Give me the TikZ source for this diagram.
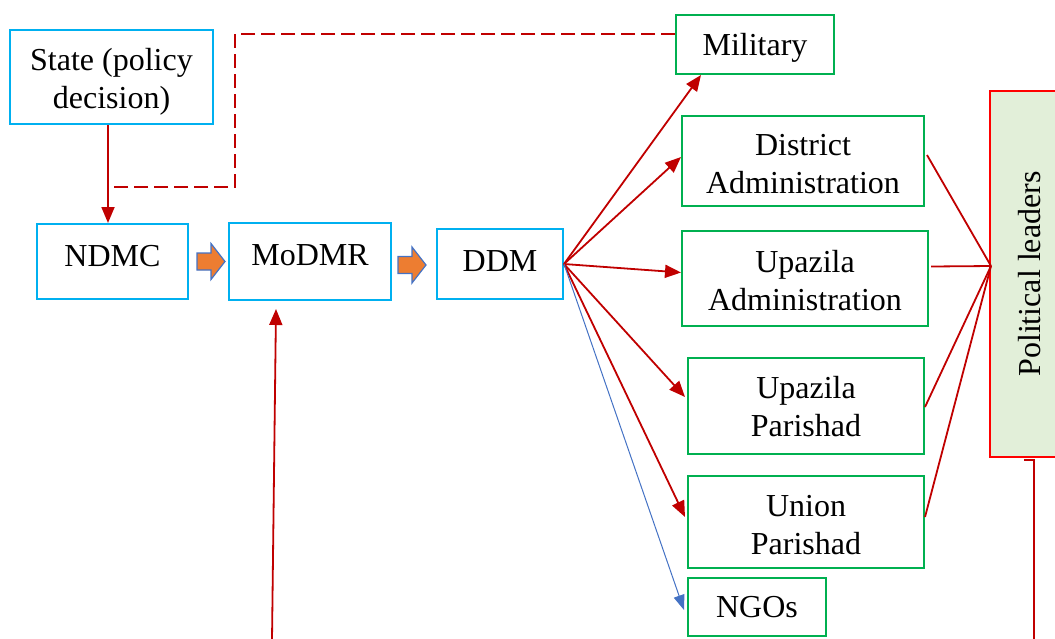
\documentclass[tikz,border=0pt]{standalone}
\usepackage{fontspec}
\setmainfont{Liberation Serif}
\usetikzlibrary{arrows.meta,calc}
\definecolor{boxblue}{HTML}{00B0F0}
\definecolor{boxgreen}{HTML}{00B050}
\definecolor{linkred}{HTML}{C00000}
\definecolor{leadred}{HTML}{FF0000}
\definecolor{leadfill}{HTML}{E2EFD9}
\definecolor{ngoblue}{HTML}{4472C4}
\definecolor{flow}{HTML}{ED7D31}
\tikzset{
  txt/.style={font=\fontsize{32}{38}\selectfont, align=center, inner sep=0pt},
  bluebox/.style={txt, draw=boxblue, line width=2pt},
  greenbox/.style={txt, draw=boxgreen, line width=2pt},
  leadbox/.style={txt, draw=leadred, fill=leadfill, line width=1.6pt},
  redlink/.style={draw=linkred, line width=1.8pt},
  redarrow/.style={redlink, -{Triangle[length=16pt,width=13pt]}},
  bluearrow/.style={draw=ngoblue, line width=1pt, -{Triangle[length=15pt,width=11pt]}},
  flowarrow/.style={draw=ngoblue, fill=flow, line width=1.2pt, line join=miter},
}
% block arrow whose tail centre sits at #1
\newcommand{\flowarrowat}[1]{%
  \path[flowarrow] ($#1+(0,-8.5)$) -- ++(14,0) -- ++(0,-9.5) -- ++(14,18)
    -- ++(-14,18) -- ++(0,-9.5) -- ++(-14,0) -- cycle;}
\begin{document}
\begin{tikzpicture}[x=1pt,y=-1pt]
\useasboundingbox (0,0) rectangle (1055,638);

% central chain
\node[bluebox, minimum width=203pt, minimum height=94pt] (state) at (111.5,77) {};
\node[txt] at ([yshift=-5pt]state.center) {State (policy\\decision)};
\node[bluebox, minimum width=151pt, minimum height=75pt, text height=22pt, text depth=13pt] (ndmc) at (112.5,261.5) {NDMC};
\node[bluebox, minimum width=162pt, minimum height=77pt, text height=22pt, text depth=15pt] (modmr) at (310,261.5) {MoDMR};
\node[bluebox, minimum width=126pt, minimum height=70pt, text height=22pt, text depth=8pt] (ddm) at (500,264) {DDM};

\coordinate (a1) at (197,261.5);
\coordinate (a2) at (398,265);
\flowarrowat{(a1)}
\flowarrowat{(a2)}

% implementing bodies
\node[greenbox, minimum width=158pt, minimum height=59pt] (military) at (755,44.5) {};
\node[txt] at ([yshift=-3pt]military.center) {Military};
\node[greenbox, minimum width=242pt, minimum height=90pt] (dist) at (803,161) {};
\node[txt] at ([yshift=-3pt]dist.center) {District\\Administration};
\node[greenbox, minimum width=246pt, minimum height=95pt] (upadm) at (805,278.5) {};
\node[txt] at ([yshift=-2pt]upadm.center) {Upazila\\Administration};
\node[greenbox, minimum width=236pt, minimum height=96pt] (uppar) at (806,406) {};
\node[txt] at ([yshift=-1pt]uppar.center) {Upazila\\Parishad};
\node[greenbox, minimum width=236pt, minimum height=92pt] (union) at (806,522) {};
\node[txt] at ([yshift=-3pt]union.center) {Union\\Parishad};
\node[greenbox, minimum width=138pt, minimum height=58pt] (ngos) at (757,607) {NGOs};

% political leaders column
\node[leadbox, rotate=90, minimum width=366pt, minimum height=80pt] (pl) at (1030,274) {Political leaders};

% helper points
\coordinate (dk) at (235,187);
\coordinate (dend) at (112,187);
\coordinate (bt) at (272,640);
\coordinate (j) at (991,266);
\coordinate (pltick) at (1024,460);
\coordinate (pbot) at (1034,640);

% links
\draw[redarrow] ([xshift=-3.5pt]state.south) -- ([xshift=-3.5pt]state.south |- ndmc.north);
\draw[redlink, line width=2pt, dash pattern=on 14pt off 6pt] ([yshift=10.5pt]military.west) -| (dk) -- (dend);
\draw[redarrow] (bt) -- ($(modmr.south)+(-34,8)$);

\draw[redarrow] (ddm.east) -- ($(military.south west)+(26,0)$);
\draw[redarrow] (ddm.east) -- ([yshift=4pt]dist.west);
\draw[redarrow] (ddm.east) -- ([yshift=6pt]upadm.west);
\draw[redarrow] (ddm.east) -- ([yshift=9pt,xshift=-2pt]uppar.west);
\draw[redarrow] (ddm.east) -- ([yshift=5pt,xshift=-2pt]union.west);
\draw[bluearrow] (ddm.east) -- ([yshift=-3pt,xshift=-3pt]ngos.west);

\draw[redlink] ([yshift=6pt,xshift=2pt]dist.east) -- (j);
\draw[redlink] ([yshift=12pt,xshift=2pt]upadm.east) -- (j);
\draw[redlink] ([yshift=-1pt]uppar.east) -- (j);
\draw[redlink] ([yshift=5pt]union.east) -- (j);
\draw[redlink] (pltick) -| (pbot);
\end{tikzpicture}
\end{document}
